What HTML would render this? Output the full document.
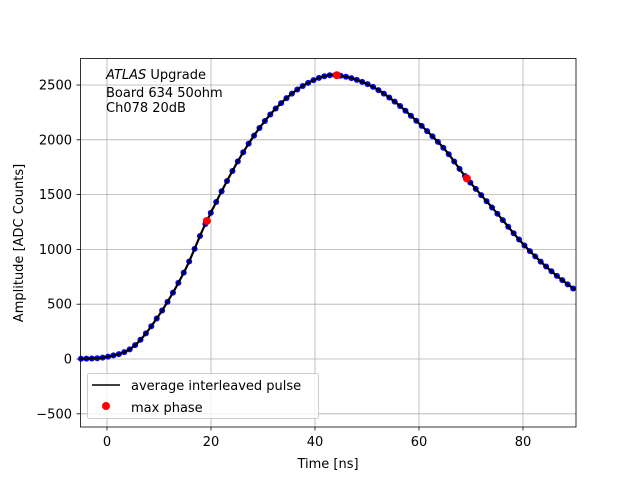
<!DOCTYPE html>
<html><head><meta charset="utf-8"><style>
body{margin:0;background:#fff}
svg text{font-family:"DejaVu Sans","Liberation Sans",sans-serif;font-size:13px}
</style></head><body>
<svg id="s" width="640" height="480" xmlns="http://www.w3.org/2000/svg">
<rect width="640" height="480" fill="#fff"/>
<g id="grid" stroke="#b0b0b0" stroke-width="0.8"></g>
<g id="data"></g>
<rect x="80.5" y="58.5" width="495.5" height="368.5" fill="none" stroke="#000" stroke-width="0.8"/>
<g id="ticks"></g>
<text x="106" y="79"><tspan font-style="italic">ATLAS</tspan> Upgrade</text>
<text x="106" y="97"> Board 634 50ohm</text>
<text x="106" y="112"> Ch078 20dB</text>
<text x="328" y="468" text-anchor="middle">Time [ns]</text>
<text transform="translate(23,243) rotate(-90)" text-anchor="middle">Amplitude [ADC Counts]</text>
<rect x="87.5" y="373.5" width="231" height="45" rx="2" fill="#fff" fill-opacity="0.8" stroke="#ccc"/>
<line x1="92" y1="385" x2="120" y2="385" stroke="#000" stroke-width="1.5"/>
<text x="131" y="390">average interleaved pulse</text>
<circle cx="106" cy="406" r="4" fill="red"/>
<text x="131" y="412">max phase</text>
</svg>
<script>
const X=t=>107+t*5.2, Y=v=>359-v*0.1096;
const ns="http://www.w3.org/2000/svg";
function el(p,n,a){const e=document.createElementNS(ns,n);for(const k in a)e.setAttribute(k,a[k]);document.getElementById(p).appendChild(e);return e;}
for(let t=0;t<=80;t+=20){el("grid","line",{x1:X(t),x2:X(t),y1:58,y2:427});
 el("ticks","line",{x1:X(t),x2:X(t),y1:427,y2:430.5,stroke:"#000","stroke-width":0.8});
 const tx=el("ticks","text",{x:X(t),y:446,"text-anchor":"middle"});tx.textContent=t;}
for(let v=-500;v<=2500;v+=500){el("grid","line",{x1:80,x2:576,y1:Y(v),y2:Y(v)});
 el("ticks","line",{x1:76.5,x2:80,y1:Y(v),y2:Y(v),stroke:"#000","stroke-width":0.8});
 const tx=el("ticks","text",{x:72,y:Y(v)+4.5,"text-anchor":"end"});tx.textContent=(v<0?"\u2212500":v);}
const P=[[-10,0],[-5,2],[0,20],[5,110],[10,400],[15,810],[19,1240],[25,1790],[30,2150],[35,2400],[40,2550],[44,2590],[50,2510],[55,2360],[60,2150],[65,1910],[69,1660],[75,1330],[80,1050],[85,820],[90,630],[95,450]];
function f(t){let i=0;while(P[i+1][0]<t)i++;const p0=P[Math.max(i-1,0)],p1=P[i],p2=P[i+1],p3=P[Math.min(i+2,P.length-1)];
 const h=p2[0]-p1[0],u=(t-p1[0])/h;
 const m1=(p2[1]-p0[1])/(p2[0]-p0[0])*h,m2=(p3[1]-p1[1])/(p3[0]-p1[0])*h;
 const u2=u*u,u3=u2*u;return (2*u3-3*u2+1)*p1[1]+(u3-2*u2+u)*m1+(-2*u3+3*u2)*p2[1]+(u3-u2)*m2;}
let d="";for(let t=-5;t<=90.01;t+=0.25)d+=(d?"L":"M")+X(t).toFixed(1)+","+Y(f(t)).toFixed(1);
for(let t=-5;t<=90.01;t+=1.04)el("data","circle",{cx:X(t),cy:Y(f(t)),r:3,fill:"#0000ff"});
el("data","path",{d:d,fill:"none",stroke:"#000","stroke-width":2.2});
for(const t of [19.2,44.2,69.2])el("data","circle",{cx:X(t),cy:Y(f(t)),r:4,fill:"red"});
</script>
</body></html>
